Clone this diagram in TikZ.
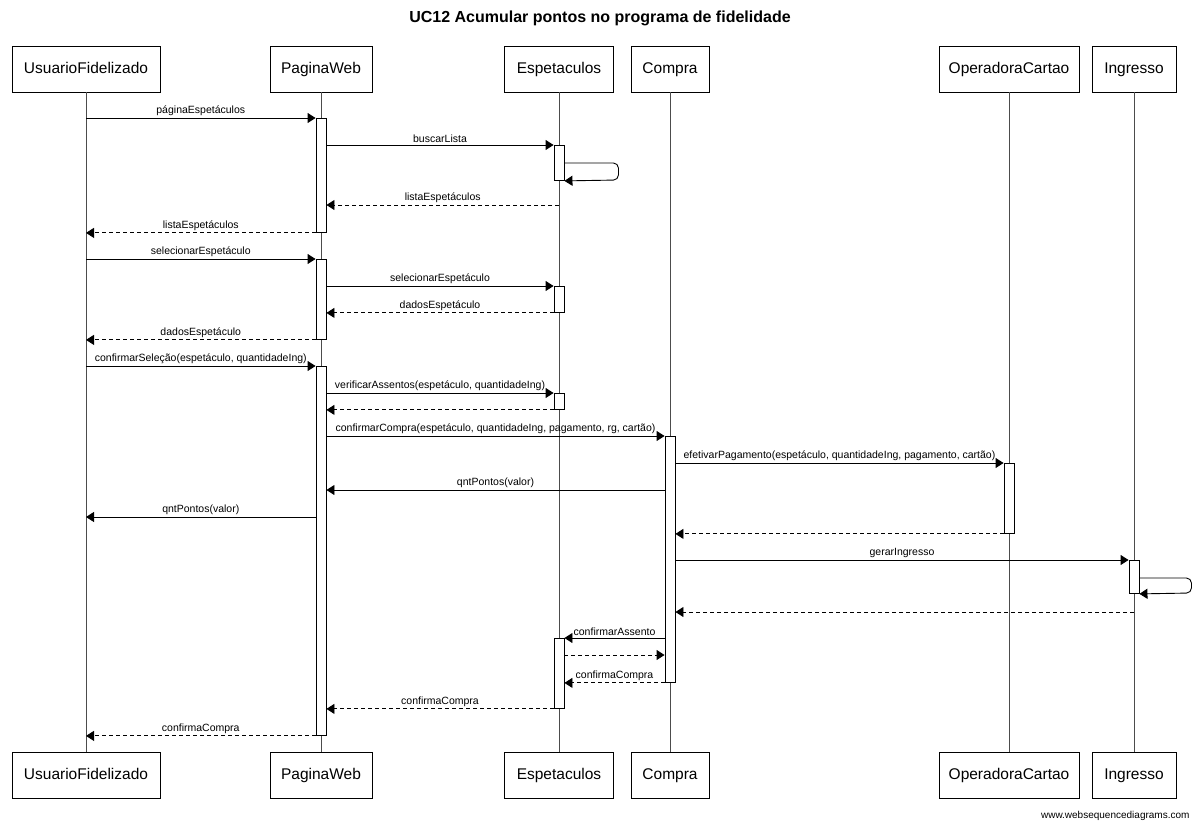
\documentclass[tikz,border=0pt]{standalone}
\usepackage{fontspec}
\setmainfont{Liberation Sans}
\usetikzlibrary{arrows.meta}
\begin{document}
\begin{tikzpicture}[x=1pt,y=-1pt,
  part/.style={draw=black, line width=0.9pt, fill=white, minimum height=46pt, inner sep=0pt, text height=11.5pt, text depth=3.5pt, font=\fontsize{15.5}{17}\selectfont},
  actbar/.style={draw=black, line width=0.9pt, fill=white, minimum width=10pt, inner sep=0pt, anchor=north},
  life/.style={draw=black!70, line width=1pt},
  msg/.style={-{Triangle[length=8pt,width=10pt]}, line width=0.9pt, draw=black},
  ret/.style={msg, dash pattern=on 4pt off 3pt},
  lbl/.style={font=\fontsize{10.5}{12}\selectfont, above, inner sep=1.5pt, midway}
]
\useasboundingbox (0,0) rectangle (1200,830);
\fill[white] (0,0) rectangle (1200,830);
\node[font=\bfseries\fontsize{16}{19}\selectfont] (title) at (600,18) {UC12 Acumular pontos no programa de fidelidade};
% participants
\node[part, minimum width=148pt] (uT) at (86,69) {UsuarioFidelizado};
\node[part, minimum width=102pt] (pT) at (321,69) {PaginaWeb};
\node[part, minimum width=109pt] (eT) at (559,69) {Espetaculos};
\node[part, minimum width=78pt]  (cT) at (670,69) {Compra};
\node[part, minimum width=140pt] (oT) at (1009,69) {OperadoraCartao};
\node[part, minimum width=84pt]  (iT) at (1134,69) {Ingresso};
\node[part, minimum width=148pt] (uB) at (86,775) {UsuarioFidelizado};
\node[part, minimum width=102pt] (pB) at (321,775) {PaginaWeb};
\node[part, minimum width=109pt] (eB) at (559,775) {Espetaculos};
\node[part, minimum width=78pt]  (cB) at (670,775) {Compra};
\node[part, minimum width=140pt] (oB) at (1009,775) {OperadoraCartao};
\node[part, minimum width=84pt]  (iB) at (1134,775) {Ingresso};
% lifelines
\draw[life] (uT) -- (uB);
\draw[life] (pT) -- (pB);
\draw[life] (eT) -- (eB);
\draw[life] (cT) -- (cB);
\draw[life] (oT) -- (oB);
\draw[life] (iT) -- (iB);
% activations
\node[actbar, minimum height=114pt] (a1) at (321,118) {};
\node[actbar, minimum height=35pt]  (a2) at (559,145) {};
\node[actbar, minimum height=80pt]  (a3) at (321,259) {};
\node[actbar, minimum height=26pt]  (a4) at (559,286) {};
\node[actbar, minimum height=369pt] (a5) at (321,366) {};
\node[actbar, minimum height=16pt]  (a6) at (559,393) {};
\node[actbar, minimum height=246pt] (a7) at (670,436) {};
\node[actbar, minimum height=70pt]  (a8) at (1009,463) {};
\node[actbar, minimum height=33pt]  (a9) at (1134,560) {};
\node[actbar, minimum height=70pt]  (a10) at (559,638) {};
% messages
\draw[msg] (uT |- a1.north) -- (a1.north west) node[lbl] {páginaEspetáculos};
\draw[msg] (a1.east |- a2.north) -- (a2.north west) node[lbl] {buscarLista};
\draw[msg, rounded corners=5pt] ([yshift=-18pt]a2.north east) -- ++(54,0) -- ++(0,17) -- (a2.south east);
\draw[ret] (eT |- 0,205) -- (a1.east |- 0,205) node[lbl] {listaEspetáculos};
\draw[ret] (a1.south west) -- (uT |- a1.south) node[lbl] {listaEspetáculos};
\draw[msg] (uT |- a3.north) -- (a3.north west) node[lbl] {selecionarEspetáculo};
\draw[msg] (a3.east |- a4.north) -- (a4.north west) node[lbl] {selecionarEspetáculo};
\draw[ret] (a4.south west) -- (a3.east |- a4.south) node[lbl] {dadosEspetáculo};
\draw[ret] (a3.south west) -- (uT |- a3.south) node[lbl] {dadosEspetáculo};
\draw[msg] (uT |- a5.north) -- (a5.north west) node[lbl] {confirmarSeleção(espetáculo, quantidadeIng)};
\draw[msg] (a5.east |- a6.north) -- (a6.north west) node[lbl] {verificarAssentos(espetáculo, quantidadeIng)};
\draw[ret] (a6.south west) -- (a5.east |- a6.south);
\draw[msg] (a5.east |- a7.north) -- (a7.north west) node[lbl] {confirmarCompra(espetáculo, quantidadeIng, pagamento, rg, cartão)};
\draw[msg] (a7.east |- a8.north) -- (a8.north west) node[lbl] {efetivarPagamento(espetáculo, quantidadeIng, pagamento, cartão)};
\draw[msg] (a7.west |- 0,490) -- (a5.east |- 0,490) node[lbl] {qntPontos(valor)};
\draw[msg] (a5.west |- 0,517) -- (uT |- 0,517) node[lbl] {qntPontos(valor)};
\draw[ret] (a8.south west) -- (a7.east |- a8.south);
\draw[msg] (a7.east |- a9.north) -- (a9.north west) node[lbl] {gerarIngresso};
\draw[msg, rounded corners=5pt] ([yshift=-18pt]a9.north east) -- ++(52,0) -- ++(0,15) -- (a9.south east);
\draw[ret] (iT |- 0,612) -- (a7.east |- 0,612);
\draw[msg] (a7.west |- a10.north) -- (a10.north east) node[lbl] {confirmarAssento};
\draw[ret] (a10.east |- 0,655) -- (a7.west |- 0,655);
\draw[ret] (a7.south west) -- (a10.east |- a7.south) node[lbl] {confirmaCompra};
\draw[ret] (a10.south west) -- (a5.east |- a10.south) node[lbl] {confirmaCompra};
\draw[ret] (a5.south west) -- (uT |- a5.south) node[lbl] {confirmaCompra};
% footer
\node[font=\fontsize{10}{12}\selectfont, anchor=east] (foot) at (1193,816) {www.websequencediagrams.com};
\end{tikzpicture}
\end{document}
